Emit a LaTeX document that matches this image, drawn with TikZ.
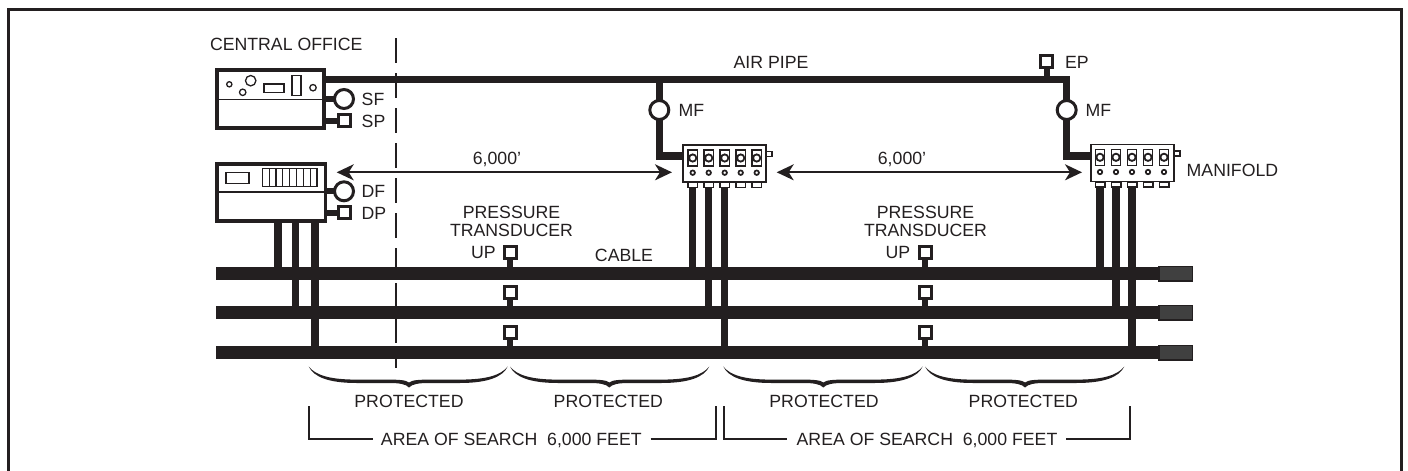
\documentclass[tikz,border=0pt]{standalone}
\usepackage{fontspec}
\setmainfont{Liberation Sans}
\usetikzlibrary{arrows.meta}
\definecolor{ink}{HTML}{231F20}
\definecolor{termfill}{HTML}{404040}
\tikzset{
  x=1pt,y=-1pt,
  ink/.style={color=ink},
  lbl/.style={inner sep=0pt,outer sep=0pt,text=ink,text height=12.7pt,text depth=0pt,font=\fontsize{17.7}{20}\selectfont},
  lbll/.style={lbl,anchor=west},
  unitbox/.style={draw=ink,line width=#1,fill=white,inner sep=0pt,outer sep=0pt},
  cablebar/.style={fill=ink,inner sep=0pt,outer sep=0pt,minimum height=13pt},
  termbox/.style={fill=termfill,draw=ink,line width=1.5pt,inner sep=0pt,outer sep=0pt,minimum width=33.5pt,minimum height=14.5pt},
  gauge/.style={circle,draw=ink,line width=3pt,fill=white,inner sep=0pt,outer sep=0pt,minimum size=19pt},
  sensor/.style={rectangle,draw=ink,line width=3pt,fill=white,inner sep=0pt,outer sep=0pt,minimum size=12pt},
  pipe/.style={draw=ink,line width=7.5pt},
  stemline/.style={draw=ink,line width=7.5pt},
  tap/.style={draw=ink,line width=6pt},
  thinbox/.style={draw=ink,line width=1.4pt,fill=white},
  twoarrow/.style={draw=ink,line width=1.7pt,{Stealth[length=17pt,width=16pt,inset=5pt]}-{Stealth[length=17pt,width=16pt,inset=5pt]}},
  bracketline/.style={draw=ink,line width=1.8pt},
}
\newcommand{\curlyb}[3]{% left, middle, right
  \fill[ink] (#1,366.5) .. controls (#1+5,377) and (#1+20,383) .. (#1+48,383)
     -- (#2-20,383) .. controls (#2-10,383) and (#2-3,384) .. (#2,387.5)
     .. controls (#2+3,384) and (#2+10,383) .. (#2+20,383)
     -- (#3-48,383) .. controls (#3-20,383) and (#3-5,377) .. (#3,366.5)
     .. controls (#3-7,375.5) and (#3-22,379.6) .. (#3-48,379.6)
     -- (#2+22,379.6) .. controls (#2+10,379.6) and (#2+3,380) .. (#2,382.5)
     .. controls (#2-3,380) and (#2-10,379.6) .. (#2-22,379.6)
     -- (#1+48,379.6) .. controls (#1+22,379.6) and (#1+7,375.5) .. (#1,366.5) -- cycle;
}
\newcommand{\manifoldunits}[3]{% x0 of first unit, box name prefix, top y
  \foreach \k/\i in {0/1,1/2,2/3,3/4,4/5}{
    \pgfmathsetmacro{\ux}{#1+16*\k}
    \node[unitbox=1.4pt,minimum width=9.5pt,minimum height=16pt] (#2u\i) at (\ux,#3+13) {};
    \fill[ink] (\ux,#3+13) circle (4.6pt);
    \fill[white] (\ux,#3+13) circle (2.5pt);
    \node[circle,draw=ink,line width=1.7pt,fill=white,inner sep=0pt,outer sep=0pt,minimum size=4.5pt] (#2s\i) at (\ux,#3+27.7) {};
    \node[unitbox=1.5pt,minimum width=9.5pt,minimum height=5pt] (#2t\i) at (\ux,#3+40) {};
  }
}
\begin{document}
\begin{tikzpicture}
\useasboundingbox (0,0) rectangle (1408,471);
% frame: open at the bottom
\coordinate (fa) at (8.5,471); \coordinate (fb) at (8.5,9); \coordinate (fc) at (1401.5,9); \coordinate (fd) at (1401.5,471);
\draw[ink,line width=3pt] (fa) -- (fb) -- (fc) -- (fd);

% dashed boundary
\coordinate (da) at (395.7,38); \coordinate (db) at (395.7,368);
\draw[draw=ink,line width=1.7pt,dash pattern=on 25pt off 10pt] (da) -- (db);

% cables
\node[cablebar,minimum width=944pt,anchor=west] (cable1) at (216,273.5) {};
\node[cablebar,minimum width=944pt,anchor=west] (cable2) at (216,312.7) {};
\node[cablebar,minimum width=944pt,anchor=west] (cable3) at (216,352.5) {};
\node[termbox,anchor=east] (term1) at (1192.5,273.5) {};
\node[termbox,anchor=east] (term2) at (1192.5,312.7) {};
\node[termbox,anchor=east] (term3) at (1192.5,352.5) {};

% central office and detector boxes
\node[unitbox=3.5pt,minimum width=107pt,minimum height=58pt] (co) at (270.3,99.2) {};
\node[unitbox=3.5pt,minimum width=108.5pt,minimum height=57pt] (dx) at (271,192.5) {};
\coordinate (coL) at (217,99.3); \coordinate (coR) at (324,99.3);
\draw[draw=ink,line width=1.5pt] (coL) -- (coR);
\coordinate (dxL) at (217,192); \coordinate (dxR) at (325,192);
\draw[draw=ink,line width=1.5pt] (dxL) -- (dxR);
\draw[draw=ink,line width=1.3pt] (229.3,84.3) circle (2.6pt) (242.7,92.3) circle (3.2pt) (250.7,80.7) circle (5.2pt) (313,87.7) circle (3.2pt);
\draw[thinbox] (264,84) rectangle (284,92.3);
\draw[thinbox] (292,75.7) rectangle (301,95.7);
\draw[thinbox] (226,172.3) rectangle (249,183.3);
\draw[thinbox] (262.3,168.7) rectangle (317,186.7);
\foreach \v in {1,...,7}{\draw[draw=ink,line width=1.2pt] ({262.3+\v*6.83},168.7) -- ({262.3+\v*6.83},186.7);}

% manifolds
\node[unitbox=1.8pt,minimum width=83pt,minimum height=37pt] (man1) at (724.5,163.5) {};
\node[unitbox=1.8pt,minimum width=83pt,minimum height=37pt] (man2) at (1132.5,163) {};
\node[unitbox=1.5pt,minimum width=6pt,minimum height=5pt,anchor=west] (nub1) at (766,154) {};
\node[unitbox=1.5pt,minimum width=6pt,minimum height=5pt,anchor=west] (nub2) at (1174,153.5) {};

% air pipe
\coordinate (pipeStart) at (325,79.5);
\coordinate (pipeCorner) at (1066.7,79.5);
\coordinate (mf1top) at (659.3,79.5);
\coordinate (p2c) at (1066.7,156);
\coordinate (p1c) at (659.3,155.8);
\draw[pipe,line join=miter] (pipeStart) -- (pipeCorner) -- (p2c) -- (man2.west |- p2c);
\draw[pipe,line join=miter] (mf1top) -- (p1c) -- (man1.west |- p1c);

\manifoldunits{692.7}{ma}{145}
\manifoldunits{1100}{mb}{144.3}

% gauges and sensors
\node[gauge] (mf1) at (659.3,110) {};
\node[gauge] (mf2) at (1066.7,110) {};
\node[gauge] (sf) at (344,99) {};
\node[gauge] (df) at (344,191.3) {};
\node[sensor] (sp) at (344,120.7) {};
\node[sensor] (dp) at (344,212.7) {};
\node[sensor] (ep) at (1046.7,61.7) {};
\coordinate (epBase) at (1046.7,79);
\draw[tap] (ep) -- (epBase);
\draw[tap] (sf) -- (sf -| co.east);
\draw[tap] (sp) -- (sp -| co.east);
\draw[tap] (df) -- (df -| dx.east);
\draw[tap] (dp) -- (dp -| dx.east);

% stems: detector to cables
\coordinate (d1) at (278,222); \coordinate (d2) at (295.5,222); \coordinate (d3) at (315,222);
\draw[stemline] (d1) -- (d1 |- cable1);
\draw[stemline] (d2) -- (d2 |- cable2);
\draw[stemline] (d3) -- (d3 |- cable3);
% stems: manifolds to cables
\draw[stemline] (mat1.south) -- (mat1.south |- cable1);
\draw[stemline] (mat2.south) -- (mat2.south |- cable2);
\draw[stemline] (mat3.south) -- (mat3.south |- cable3);
\draw[stemline] (mbt1.south) -- (mbt1.south |- cable1);
\draw[stemline] (mbt2.south) -- (mbt2.south |- cable2);
\draw[stemline] (mbt3.south) -- (mbt3.south |- cable3);

% transducers
\foreach \n/\x in {a/510,b/925}{
  \node[sensor] (up\n1) at (\x,252.7) {};
  \node[sensor] (up\n2) at (\x,292.7) {};
  \node[sensor] (up\n3) at (\x,332.7) {};
  \draw[tap] (up\n1) -- (up\n1 |- cable1);
  \draw[tap] (up\n2) -- (up\n2 |- cable2);
  \draw[tap] (up\n3) -- (up\n3 |- cable3);
}

% distance arrows
\coordinate (a1) at (336.7,172.3); \coordinate (a2) at (672,172.3);
\coordinate (a3) at (776.7,172.3); \coordinate (a4) at (1082,172.3);
\draw[twoarrow] (a1) -- (a2);
\draw[twoarrow] (a3) -- (a4);

% braces
\curlyb{308.7}{409}{507.7}
\curlyb{510}{609.3}{709.3}
\curlyb{723.3}{823.3}{922.7}
\curlyb{925}{1025}{1124.3}

% area brackets
\coordinate (b1) at (309.3,406); \coordinate (b2) at (309.3,438.7); \coordinate (b3) at (372.7,438.7);
\coordinate (b4) at (650.5,438.7); \coordinate (b5) at (715.7,438.7); \coordinate (b6) at (715.7,406);
\coordinate (c1) at (724,406); \coordinate (c2) at (724,438.7); \coordinate (c3) at (787.3,438.7);
\coordinate (c4) at (1066,438.7); \coordinate (c5) at (1130,438.7); \coordinate (c6) at (1130,406);
\draw[bracketline] (b1) -- (b2) -- (b3);
\draw[bracketline] (b4) -- (b5) -- (b6);
\draw[bracketline] (c1) -- (c2) -- (c3);
\draw[bracketline] (c4) -- (c5) -- (c6);

% labels
\node[lbll] (tCO) at (210,44) {CENTRAL OFFICE};
\node[lbll] (tSF) at (361.7,99) {SF};
\node[lbll] (tSP) at (361.7,120.7) {SP};
\node[lbll] (tDF) at (361.7,191) {DF};
\node[lbll] (tDP) at (361.7,212.7) {DP};
\node[lbl] (tAIR) at (771,62) {AIR PIPE};
\node[lbll] (tEP) at (1065,61.7) {EP};
\node[lbll] (tMF1) at (678.7,110.5) {MF};
\node[lbll] (tMF2) at (1085.7,110.5) {MF};
\node[lbll] (tMAN) at (1186.7,170) {MANIFOLD};
\node[lbl] (t6a) at (497,158) {6,000’};
\node[lbl] (t6b) at (902,158) {6,000’};
\node[lbl] (tPa) at (511.5,212.3) {PRESSURE};
\node[lbl] (tTa) at (511.5,230) {TRANSDUCER};
\node[lbll] (tUa) at (471,252) {UP};
\node[lbl] (tPb) at (925.5,212.3) {PRESSURE};
\node[lbl] (tTb) at (925.5,230) {TRANSDUCER};
\node[lbll] (tUb) at (885.5,252) {UP};
\node[lbl] (tCB) at (624,255) {CABLE};
\node[lbl] (tPr1) at (409,400.7) {PROTECTED};
\node[lbl] (tPr2) at (608.3,400.7) {PROTECTED};
\node[lbl] (tPr3) at (824,400.7) {PROTECTED};
\node[lbl] (tPr4) at (1023.3,400.7) {PROTECTED};
\node[lbl] (tAr1) at (511.3,438.7) {AREA OF SEARCH\ \ 6,000 FEET};
\node[lbl] (tAr2) at (927,438.7) {AREA OF SEARCH\ \ 6,000 FEET};
\end{tikzpicture}
\end{document}
